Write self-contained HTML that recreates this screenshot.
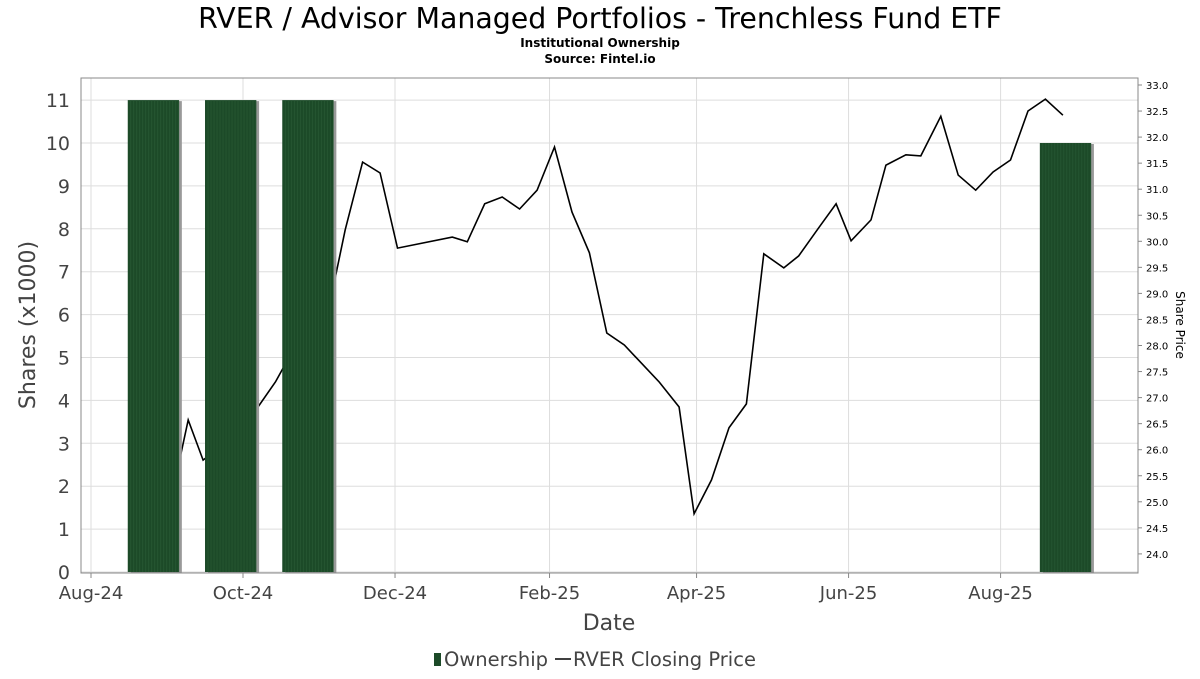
<!DOCTYPE html>
<html><head><meta charset="utf-8"><style>
body{margin:0;background:#fff;font-family:"DejaVu Sans","Liberation Sans",sans-serif}
svg text{font-family:"DejaVu Sans","Liberation Sans",sans-serif}
</style></head><body>
<svg id="c" width="1200" height="675" xmlns="http://www.w3.org/2000/svg">
<text x="600" y="28" text-anchor="middle" font-size="28.4">RVER / Advisor Managed Portfolios - Trenchless Fund ETF</text>
<text x="600" y="47" text-anchor="middle" font-size="12" font-weight="bold">Institutional Ownership</text>
<text x="600" y="63" text-anchor="middle" font-size="12" font-weight="bold">Source: Fintel.io</text>
<g id="grid"></g><g id="line"></g><g id="bars"></g><g id="axes"></g>
<text transform="translate(35,325) rotate(-90)" text-anchor="middle" font-size="22" fill="#444">Shares (x1000)</text>
<text transform="translate(1176,325) rotate(90)" text-anchor="middle" font-size="12">Share Price</text>
<text x="609" y="630" text-anchor="middle" font-size="22" fill="#444">Date</text>
<g>
<rect x="434" y="653" width="7" height="13" fill="#1c4a28"/>
<text x="444" y="666" font-size="19.5" fill="#444">Ownership</text>
<line x1="555" y1="659" x2="571" y2="659" stroke="#000" stroke-width="1.5"/>
<text x="573" y="666" font-size="19.5" fill="#444">RVER Closing Price</text>
</g>
</svg>
<script>
const barDays=[25,56,87,391];
const barValues=[11,11,11,10];
const priceDays=[15,22,29,36,39,45,50,57,64,67,74,80,84,90,97,102,109,116,123,145,151,158,165,172,179,186,193,200,207,214,228,236,242,249,256,263,270,278,284,292,299,305,313,319,327,333,341,348,355,362,369,376,383,390];
const prices=[25.61,25.42,25.61,25.90,26.57,25.80,25.99,26.28,26.67,26.82,27.30,27.82,28.11,28.53,29.07,30.22,31.52,31.31,29.87,30.08,29.99,30.72,30.85,30.62,30.98,31.81,30.56,29.78,28.24,28.01,27.30,26.82,24.77,25.42,26.42,26.88,29.76,29.49,29.72,30.26,30.72,30.01,30.41,31.46,31.66,31.64,32.40,31.27,30.98,31.33,31.56,32.50,32.73,32.42];
const leftTicks=[0,1,2,3,4,5,6,7,8,9,10,11];
const rightTicks=[24.0,24.5,25.0,25.5,26.0,26.5,27.0,27.5,28.0,28.5,29.0,29.5,30.0,30.5,31.0,31.5,32.0,32.5,33.0];
const xTickDays=[0,61,122,184,243,304,365];
const xTickLabels=["Aug-24","Oct-24","Dec-24","Feb-25","Apr-25","Jun-25","Aug-25"];
const NS="http://www.w3.org/2000/svg";
const L=81,R=1138,T=78,B=573;
const xs=d=>91+d*2.492;
const yl=v=>572-v*42.9;
const yr=p=>85+(33-p)*52.1;
function mk(tag,at,parent){const e=document.createElementNS(NS,tag);for(const k in at)e.setAttribute(k,at[k]);document.getElementById(parent).appendChild(e);return e;}
leftTicks.forEach(v=>{
 const g=mk('line',{x1:L,x2:R,y1:yl(v),y2:yl(v),stroke:'#ddd','stroke-width':1},'grid');
 
 
 const t=mk('text',{x:70,y:yl(v)+7,'text-anchor':'end','font-size':19,fill:'#444'},'axes');t.textContent=v;
 
 
});
xTickDays.forEach((d,i)=>{
 const g=mk('line',{x1:xs(d),x2:xs(d),y1:T,y2:B,stroke:'#ddd','stroke-width':1},'grid');
 
 
 const k=mk('line',{x1:xs(d),x2:xs(d),y1:B,y2:B+5,stroke:'#888'},'axes');
 
 
 const t=mk('text',{x:xs(d),y:599,'text-anchor':'middle','font-size':18,fill:'#444'},'axes');t.textContent=xTickLabels[i];
 
 
});
rightTicks.forEach(p=>{
 const t=mk('text',{x:1146,y:yr(p)+4,'font-size':10},'axes');t.textContent=p.toFixed(1);
 
 
 const k=mk('line',{x1:R,x2:R+4,y1:yr(p),y2:yr(p),stroke:'#888'},'axes');
 
 
});
const fr=mk('rect',{x:L,y:T,width:R-L,height:B-T,fill:'none',stroke:'#888'},'axes');


const pts=priceDays.map((d,i)=>xs(d).toFixed(1)+','+yr(prices[i]).toFixed(1)).join(' ');
const pl=mk('polyline',{points:pts,fill:'none',stroke:'#000','stroke-width':1.6},'line');


const bw=20.5*2.492;
barDays.forEach((d,i)=>{
 const x=xs(d)-bw/2,y=yl(barValues[i]);
 const s=mk('rect',{x:x+3,y:y+1,width:bw,height:B-1-y,fill:'#999'},'bars');
 
 
 const b=mk('rect',{x:x,y:y,width:bw,height:B-1-y,fill:'#1c4a28'},'bars');
 
 
 for(let sx=x+3;sx<x+bw;sx+=3){
  const st=mk('line',{x1:sx,x2:sx,y1:y,y2:B-1,stroke:'#2a5a36','stroke-width':0.7},'bars');
  
  
 }
});
</script>
</body></html>
